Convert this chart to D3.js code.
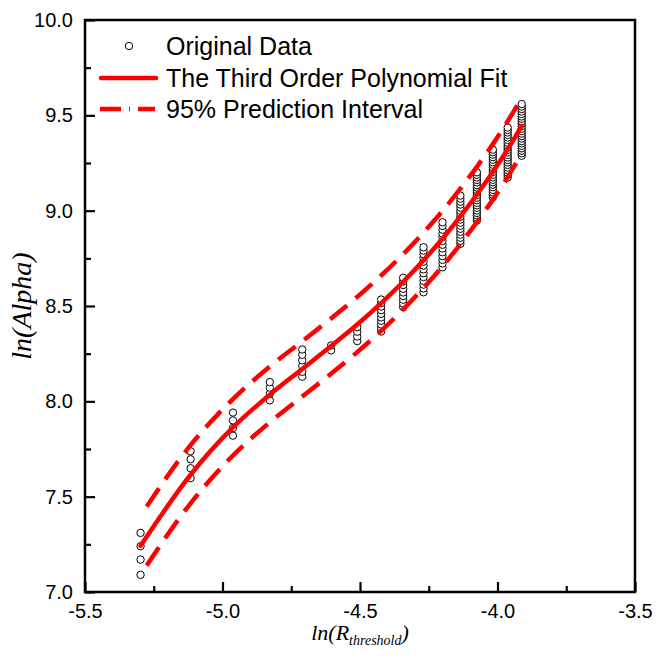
<!DOCTYPE html>
<html>
<head>
<meta charset="utf-8">
<script src="https://cdn.jsdelivr.net/npm/d3@7"></script>
<style>
  body { margin: 0; background: #fff; }
  svg text { font-family: "Liberation Sans", Arial, sans-serif; }
</style>
</head>
<body>
<div id="chart"></div>
<script>
// ln(R_threshold) value of each column of original data
const lnR = [-5.298, -5.116, -4.962, -4.828, -4.71, -4.605, -4.51, -4.423,
             -4.343, -4.269, -4.2, -4.135, -4.075, -4.017, -3.963, -3.912];

// ln(Alpha) values per column
const lnAlphaCols = [
    [7.09, 7.17, 7.24, 7.31],
    [7.597, 7.649, 7.696, 7.738],
    [7.82, 7.86, 7.90, 7.941],
    [8.005, 8.04, 8.072, 8.101],
    [8.129, 8.155, 8.185, 8.215, 8.244, 8.272],
    [8.267, 8.293],
    [8.316, 8.34, 8.365, 8.389],
    [8.366, 8.385, 8.403, 8.422, 8.44, 8.459, 8.478, 8.497, 8.515, 8.534],
    [8.494, 8.513, 8.533, 8.552, 8.571, 8.59, 8.61, 8.629, 8.648],
    [8.572, 8.592, 8.612, 8.632, 8.652, 8.672, 8.692, 8.712, 8.732, 8.752, 8.772, 8.79, 8.808],
    [8.703, 8.723, 8.742, 8.762, 8.782, 8.802, 8.821, 8.841, 8.861, 8.88, 8.9, 8.92, 8.939],
    [8.826, 8.842, 8.858, 8.874, 8.889, 8.905, 8.921, 8.937, 8.953, 8.968, 8.984, 9.0, 9.016, 9.032, 9.047, 9.063, 9.079],
    [8.948, 8.961, 8.975, 8.988, 9.001, 9.015, 9.028, 9.041, 9.055, 9.068, 9.081, 9.094, 9.108, 9.121, 9.134, 9.148, 9.161, 9.174, 9.188, 9.201],
    [9.07, 9.083, 9.096, 9.109, 9.123, 9.136, 9.149, 9.162, 9.175, 9.188, 9.202, 9.215, 9.228, 9.241, 9.254, 9.267, 9.281, 9.294, 9.307, 9.32],
    [9.174, 9.187, 9.2, 9.213, 9.226, 9.24, 9.253, 9.266, 9.279, 9.292, 9.305, 9.318, 9.331, 9.344, 9.357, 9.371, 9.384, 9.397, 9.41, 9.423, 9.436],
    [9.288, 9.301, 9.314, 9.327, 9.34, 9.353, 9.365, 9.378, 9.391, 9.404, 9.417, 9.43, 9.443, 9.456, 9.469, 9.482, 9.494, 9.507, 9.52, 9.533, 9.546, 9.559]
];

// third order polynomial fit and 95% prediction band, read at each column
const fitY   = [7.242, 7.615, 7.863, 8.035, 8.17, 8.29, 8.403, 8.515, 8.627, 8.74, 8.853, 8.97, 9.085, 9.203, 9.322, 9.445];
const upperY = [7.40, 7.77, 8.012, 8.182, 8.315, 8.435, 8.548, 8.66, 8.772, 8.885, 8.998, 9.115, 9.23, 9.349, 9.469, 9.593];
const lowerY = [7.09, 7.465, 7.716, 7.89, 8.025, 8.145, 8.258, 8.37, 8.482, 8.595, 8.708, 8.825, 8.94, 9.058, 9.176, 9.30];

const xTicks = [-5.5, -5.0, -4.5, -4.0, -3.5];
const xMinor = [-5.25, -4.75, -4.25, -3.75];
const yTicks = [7.0, 7.5, 8.0, 8.5, 9.0, 9.5, 10.0];
const yMinor = [7.25, 7.75, 8.25, 8.75, 9.25, 9.75];

const legendLabels = ["Original Data", "The Third Order Polynomial Fit", "95% Prediction Interval"];

const width = 667, height = 657;
const plotLeft = 85, plotRight = 635, plotTop = 20, plotBottom = 592;

const svg = d3.select("#chart").append("svg")
    .attr("width", width)
    .attr("height", height);

const x = d3.scaleLinear().domain([-5.5, -3.5]).range([plotLeft, plotRight]);
const y = d3.scaleLinear().domain([7, 10]).range([plotBottom, plotTop]);

// points
const points = [];
lnR.forEach((r, i) => lnAlphaCols[i].forEach(a => points.push([r, a])));

svg.append("g")
    .selectAll("circle")
    .data(points)
    .enter()
    .append("circle")
    .attr("cx", d => x(d[0]))
    .attr("cy", d => y(d[1]))
    .attr("r", 3.7)
    .attr("fill", "white")
    .attr("stroke", "black")
    .attr("stroke-width", 1);

// fit and band
const line = d3.line()
    .x(d => x(d[0]))
    .y(d => y(d[1]))
    .curve(d3.curveMonotoneX);

svg.append("path")
    .attr("d", line(lnR.map((r, i) => [r, upperY[i]])))
    .attr("fill", "none")
    .attr("stroke", "red")
    .attr("stroke-width", 4.5)
    .attr("stroke-dasharray", "22,11")
    .attr("stroke-dashoffset", 22);

svg.append("path")
    .attr("d", line(lnR.map((r, i) => [r, lowerY[i]])))
    .attr("fill", "none")
    .attr("stroke", "red")
    .attr("stroke-width", 4.5)
    .attr("stroke-dasharray", "22,11")
    .attr("stroke-dashoffset", 22);

svg.append("path")
    .attr("d", line(lnR.map((r, i) => [r, fitY[i]])))
    .attr("fill", "none")
    .attr("stroke", "red")
    .attr("stroke-width", 4.5)
    .attr("stroke-linecap", "round");

// axes
const fmt = d => d.toFixed(1);

svg.append("g")
    .attr("transform", `translate(0,${plotBottom})`)
    .call(d3.axisBottom(x).tickValues(xTicks).tickFormat(fmt)
        .tickSize(-10).tickSizeOuter(0).tickPadding(12));

svg.append("g")
    .attr("transform", `translate(0,${plotBottom})`)
    .call(d3.axisBottom(x).tickValues(xMinor).tickFormat("")
        .tickSize(-6).tickSizeOuter(0));

svg.append("g")
    .attr("transform", `translate(${plotLeft},0)`)
    .call(d3.axisLeft(y).tickValues(yTicks).tickFormat(fmt)
        .tickSize(-10).tickSizeOuter(0).tickPadding(12));

svg.append("g")
    .attr("transform", `translate(${plotLeft},0)`)
    .call(d3.axisLeft(y).tickValues(yMinor).tickFormat("")
        .tickSize(-6).tickSizeOuter(0));

svg.selectAll(".tick line").attr("stroke-width", 2.2);
svg.selectAll(".domain").remove();
svg.selectAll(".tick text")
    .attr("font-size", 20)
    .attr("fill", "black")
    .style("font-family", "'Liberation Sans', Arial, sans-serif");

// frame
svg.append("rect")
    .attr("x", plotLeft)
    .attr("y", plotTop)
    .attr("width", plotRight - plotLeft)
    .attr("height", plotBottom - plotTop)
    .attr("fill", "none")
    .attr("stroke", "black")
    .attr("stroke-width", 2.5);

// axis titles
const xTitle = svg.append("text")
    .attr("x", (plotLeft + plotRight) / 2)
    .attr("y", 640)
    .attr("text-anchor", "middle")
    .style("font-family", "'Liberation Serif', 'Times New Roman', serif")
    .style("font-style", "italic")
    .attr("font-size", 22);
xTitle.append("tspan").text("ln(R");
xTitle.append("tspan").attr("font-size", 14).attr("dy", 5).text("threshold");
xTitle.append("tspan").attr("dy", -5).text(")");

svg.append("text")
    .attr("transform", `translate(31,${(plotTop + plotBottom) / 2}) rotate(-90)`)
    .attr("text-anchor", "middle")
    .style("font-family", "'Liberation Serif', 'Times New Roman', serif")
    .style("font-style", "italic")
    .attr("font-size", 28)
    .text("ln(Alpha)");

// legend
const legendY = [46, 78, 109];
const legend = svg.append("g");

legend.append("circle")
    .attr("cx", 129)
    .attr("cy", legendY[0])
    .attr("r", 3.7)
    .attr("fill", "white")
    .attr("stroke", "black");

legend.append("line")
    .attr("x1", 101).attr("x2", 156)
    .attr("y1", legendY[1]).attr("y2", legendY[1])
    .attr("stroke", "red").attr("stroke-width", 4.5).attr("stroke-linecap", "round");

legend.append("line")
    .attr("x1", 100).attr("x2", 155)
    .attr("y1", legendY[2]).attr("y2", legendY[2])
    .attr("stroke", "red").attr("stroke-width", 4.5)
    .attr("stroke-dasharray", "21,8,1,8");

legend.selectAll("text")
    .data(legendLabels)
    .enter()
    .append("text")
    .attr("x", 166)
    .attr("y", (d, i) => legendY[i] + 9)
    .attr("font-size", 25)
    .attr("fill", "black")
    .text(d => d);
</script>
</body>
</html>
